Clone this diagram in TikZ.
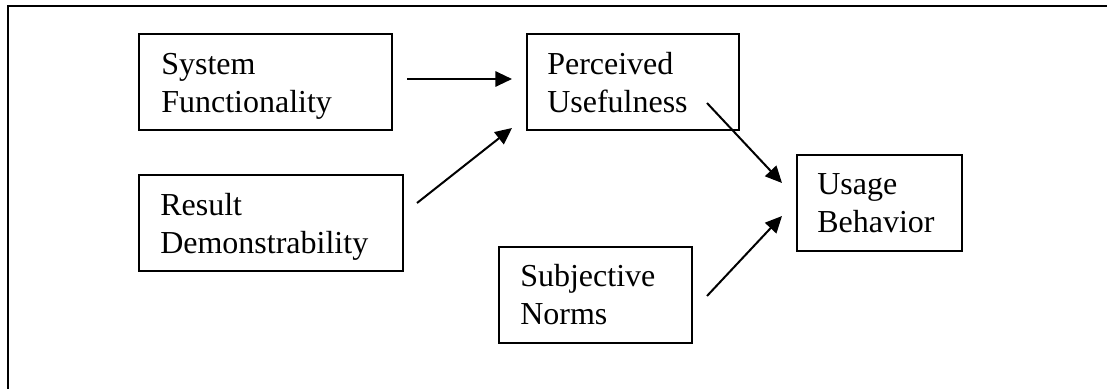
\documentclass[tikz,border=0pt]{standalone}
\usepackage{fontspec}
\setmainfont{Liberation Serif}
\usetikzlibrary{arrows.meta}
\begin{document}
\begin{tikzpicture}[x=0.75pt,y=-0.75pt,
  box/.style={draw=black,line width=1.5pt,inner sep=0pt,minimum height=72pt},
  txt/.style={inner sep=0pt,anchor=base west,align=left,font=\fontsize{24}{28.3}\selectfont},
  arr/.style={line width=1.5pt,-{Triangle[length=12.5pt,width=11.5pt]}},
  frame/.style={line width=1.6pt}]
\useasboundingbox (0,0) rectangle (1107,389);
\draw[frame] (8,395) -- (8,6) -- (1115,6);
% boxes
\node[box,minimum width=189.75pt] (sf) at (265.5,82) {};
\node[box,minimum width=159pt] (pu) at (633,82) {};
\node[box,minimum width=198pt] (rd) at (271,223) {};
\node[box,minimum width=144.75pt] (sn) at (595.5,295) {};
\node[box,minimum width=123.75pt] (ub) at (879.5,202.5) {};
% texts (base = baseline of last line)
\node[txt] (sft) at (161,112) {System\\Functionality};
\node[txt] (put) at (547,112) {Perceived\\Usefulness};
\node[txt] (rdt) at (160,253) {Result\\Demonstrability};
\node[txt] (snt) at (520,324) {Subjective\\Norms};
\node[txt] (ubt) at (817,232) {Usage\\Behavior};
% arrow ends
\coordinate (a1s) at (407,79);
\coordinate (a1e) at (512,79);
\coordinate (a2s) at (417,203);
\coordinate (a2e) at (512,128);
\coordinate (a3s) at (707,103);
\coordinate (a3e) at (782,183);
\coordinate (a4s) at (707,296);
\coordinate (a4e) at (782,216);
\draw[arr] (a1s) -- (a1e);
\draw[arr] (a2s) -- (a2e);
\draw[arr] (a3s) -- (a3e);
\draw[arr] (a4s) -- (a4e);
\end{tikzpicture}
\end{document}
